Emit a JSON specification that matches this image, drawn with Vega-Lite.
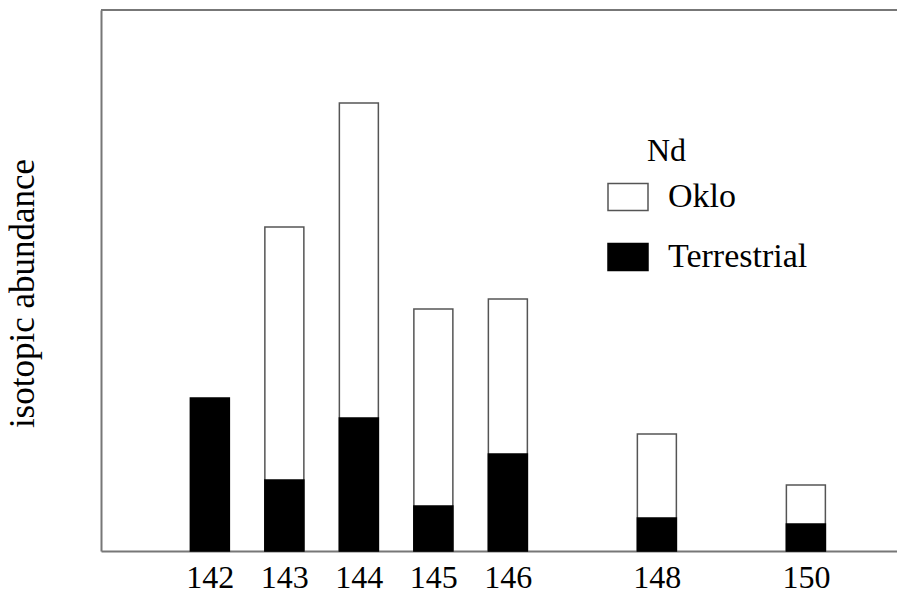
{
  "$schema": "https://vega.github.io/schema/vega-lite/v6.json",
  "width": 796,
  "height": 541,
  "autosize": {"type": "none"},
  "padding": {"left": 101, "top": 10, "right": 0, "bottom": 42},
  "background": "white",
  "config": {
    "view": {"stroke": null},
    "font": "Liberation Serif",
    "legend": {
      "orient": "none",
      "legendX": 506,
      "legendY": 126,
      "titleFont": "Liberation Serif",
      "titleFontSize": 32,
      "titleFontWeight": "normal",
      "titleColor": "black",
      "titlePadding": 8,
      "labelFont": "Liberation Serif",
      "labelFontSize": 34,
      "labelColor": "black",
      "labelOffset": 19,
      "symbolType": "M-1,-0.675H1V0.675H-1Z",
      "symbolSize": 1600,
      "symbolStrokeWidth": 1.5,
      "rowPadding": 22,
      "padding": 0
    }
  },
  "datasets": {
    "bars": [
      {"mass": 143, "series": "Oklo", "abundance": 324},
      {"mass": 144, "series": "Oklo", "abundance": 448},
      {"mass": 145, "series": "Oklo", "abundance": 242},
      {"mass": 146, "series": "Oklo", "abundance": 252},
      {"mass": 148, "series": "Oklo", "abundance": 117},
      {"mass": 150, "series": "Oklo", "abundance": 66},
      {"mass": 142, "series": "Terrestrial", "abundance": 153},
      {"mass": 143, "series": "Terrestrial", "abundance": 71},
      {"mass": 144, "series": "Terrestrial", "abundance": 133},
      {"mass": 145, "series": "Terrestrial", "abundance": 45},
      {"mass": 146, "series": "Terrestrial", "abundance": 97},
      {"mass": 148, "series": "Terrestrial", "abundance": 33},
      {"mass": 150, "series": "Terrestrial", "abundance": 27}
    ]
  },
  "layer": [
    {
      "data": {"name": "bars"},
      "mark": {"type": "bar", "width": 39, "strokeWidth": 1.5},
      "encoding": {
        "x": {
          "field": "mass",
          "type": "quantitative",
          "scale": {"domain": [140.606, 151.156], "nice": false, "zero": false},
          "axis": {
            "values": [142, 143, 144, 145, 146, 148, 150],
            "title": null,
            "grid": false,
            "ticks": false,
            "domain": true,
            "domainColor": "#777",
            "domainWidth": 2,
            "labelFont": "Liberation Serif",
            "labelFontSize": 32,
            "labelColor": "black",
            "labelPadding": 11,
            "labelFlush": false,
            "labelOverlap": false
          }
        },
        "y": {
          "field": "abundance",
          "type": "quantitative",
          "stack": null,
          "scale": {"domain": [0, 541], "nice": false},
          "axis": {
            "title": "isotopic abundance",
            "titleFont": "Liberation Serif",
            "titleFontSize": 35,
            "titleFontWeight": "normal",
            "titleColor": "black",
            "titlePadding": 61,
            "titleY": 283,
            "labels": false,
            "ticks": false,
            "grid": false,
            "domain": true,
            "domainColor": "#777",
            "domainWidth": 2
          }
        },
        "color": {
          "field": "series",
          "type": "nominal",
          "title": "\u200b\u00a0\u00a0\u00a0\u00a0\u00a0Nd",
          "scale": {"domain": ["Oklo", "Terrestrial"], "range": ["white", "black"]}
        },
        "stroke": {
          "field": "series",
          "type": "nominal",
          "title": "\u200b\u00a0\u00a0\u00a0\u00a0\u00a0Nd",
          "scale": {"domain": ["Oklo", "Terrestrial"], "range": ["#555555", "black"]}
        }
      }
    },
    {
      "data": {"values": [{}]},
      "mark": {"type": "rule", "color": "#777", "strokeWidth": 2},
      "encoding": {"y": {"datum": 541}}
    }
  ]
}
